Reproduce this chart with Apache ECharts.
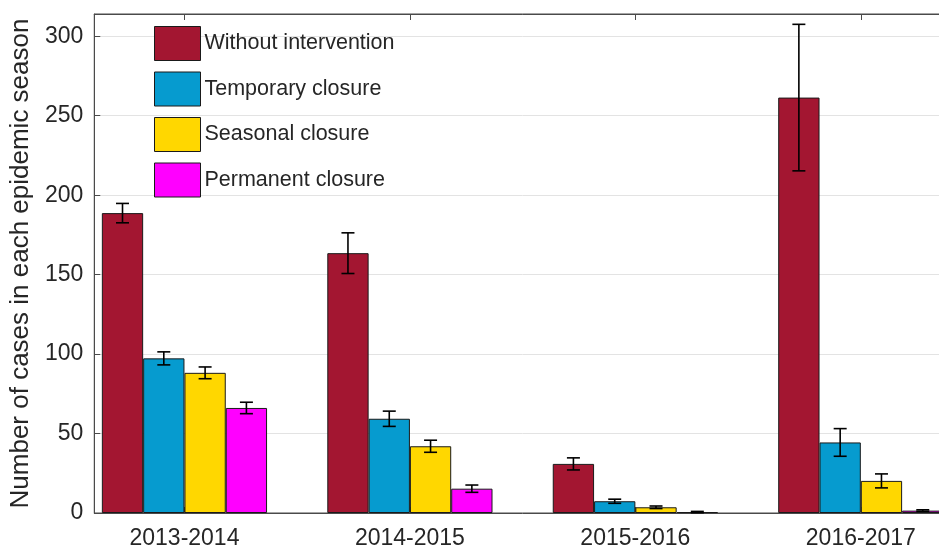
<!DOCTYPE html>
<html>
<head>
<meta charset="utf-8">
<script src="https://cdn.jsdelivr.net/npm/echarts@6/dist/echarts.min.js"></script>
<style>
html,body{margin:0;padding:0;background:#fff;overflow:hidden;width:939px;height:550px;}
#chart{width:951px;height:550px;}
</style>
</head>
<body>
<div id="chart"></div>
<script>
var categories = ['2013-2014', '2014-2015', '2015-2016', '2016-2017'];
var seriesNames = ['Without intervention', 'Temporary closure', 'Seasonal closure', 'Permanent closure'];
var withoutIntervention = [188.7, 163.5, 30.9, 261.4];
var withoutInterventionErr = [6.1, 12.8, 3.8, 46.1];
var temporaryClosure = [97.3, 59.3, 7.4, 44.4];
var temporaryClosureErr = [4.1, 4.8, 1.3, 8.7];
var seasonalClosure = [88.2, 42.0, 3.6, 20.2];
var seasonalClosureErr = [3.7, 3.8, 0.8, 4.4];
var permanentClosure = [66.1, 15.3, 0.6, 1.5];
var permanentClosureErr = [3.6, 2.3, 0.4, 0.5];
var yTicks = [0, 50, 100, 150, 200, 250, 300];
var xPositions = [1, 2, 3, 4];

var values = [withoutIntervention, temporaryClosure, seasonalClosure, permanentClosure];
var errors = [withoutInterventionErr, temporaryClosureErr, seasonalClosureErr, permanentClosureErr];
var colors = ['#A31631', '#069BCF', '#FFD700', '#FF00FF'];
var BAR_W = 41.3;
var FONT = 'Liberation Sans, Arial, Helvetica, sans-serif';
var TXT = '#262626';

var series = [];
values.forEach(function (vals, s) {
  series.push({
    name: seriesNames[s],
    type: 'bar',
    barWidth: BAR_W,
    barGap: '0%',
    itemStyle: { color: colors[s], borderColor: '#1a1a1a', borderWidth: 1 },
    data: vals.map(function (v, i) { return [xPositions[i], v]; }),
    z: 2
  });
});
values.forEach(function (vals, s) {
  series.push({
    type: 'custom',
    z: 5,
    silent: true,
    data: vals.map(function (v, i) { return [xPositions[i], v - errors[s][i], v + errors[s][i]]; }),
    renderItem: function (params, api) {
      var off = (s - 1.5) * BAR_W;
      var lo = api.coord([api.value(0), api.value(1)]);
      var hi = api.coord([api.value(0), api.value(2)]);
      var x = lo[0] + off;
      var cap = 6.5;
      var st = { stroke: '#000', lineWidth: 1.6 };
      return {
        type: 'group',
        children: [
          { type: 'line', shape: { x1: x, y1: lo[1], x2: x, y2: hi[1] }, style: st },
          { type: 'line', shape: { x1: x - cap, y1: lo[1], x2: x + cap, y2: lo[1] }, style: st },
          { type: 'line', shape: { x1: x - cap, y1: hi[1], x2: x + cap, y2: hi[1] }, style: st }
        ]
      };
    }
  });
});

var chart = echarts.init(document.getElementById('chart'));
chart.setOption({
  animation: false,
  backgroundColor: '#fff',
  grid: { left: 93, top: 14, right: 0, bottom: 37, show: true, borderColor: '#4a4a4a', borderWidth: 1, backgroundColor: 'transparent' },
  legend: {
    orient: 'vertical', left: 154, top: 26, padding: 0,
    itemWidth: 46, itemHeight: 34, itemGap: 10.5,
    icon: 'rect',
    data: seriesNames,
    itemStyle: { borderColor: '#1a1a1a', borderWidth: 1 },
    textStyle: { fontFamily: FONT, fontSize: 21.5, color: TXT, padding: [0, 0, 0, -1] }
  },
  xAxis: [{
    type: 'value', min: 0.6, max: 4.4,
    axisLine: { show: true, lineStyle: { color: '#4a4a4a' } },
    axisTick: { show: true, inside: true, length: 6, customValues: xPositions, lineStyle: { color: '#4a4a4a' } },
    axisLabel: {
      customValues: xPositions, margin: 14,
      fontFamily: FONT, fontSize: 23, color: TXT,
      formatter: function (v) { return categories[Math.round(v) - 1] || ''; }
    },
    splitLine: { show: false }
  }, {
    type: 'value', min: 0.6, max: 4.4, position: 'top',
    axisLine: { show: true, lineStyle: { color: '#4a4a4a' } },
    axisTick: { show: true, inside: true, length: 6, customValues: xPositions, lineStyle: { color: '#4a4a4a' } },
    axisLabel: { show: false },
    splitLine: { show: false }
  }],
  yAxis: {
    type: 'value', min: 0, max: 314, interval: 50,
    name: 'Number of cases in each epidemic season',
    nameLocation: 'middle', nameGap: 55,
    nameTextStyle: { fontFamily: FONT, fontSize: 26, color: TXT },
    axisLine: { show: true, lineStyle: { color: '#4a4a4a' } },
    axisTick: { show: true, inside: true, length: 6, customValues: yTicks, lineStyle: { color: '#4a4a4a' } },
    axisLabel: { customValues: yTicks, margin: 11, fontFamily: FONT, fontSize: 23, color: TXT },
    splitLine: { show: true, lineStyle: { color: '#e3e3e3', width: 1 } }
  },
  series: series
});
</script>
</body>
</html>
